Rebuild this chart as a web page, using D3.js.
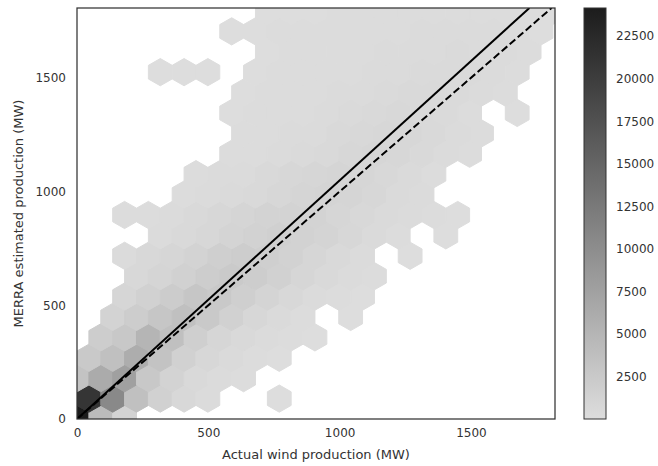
<!DOCTYPE html>
<html><head><meta charset="utf-8">
<script src="https://cdn.jsdelivr.net/npm/d3@7"></script>
<style>body{margin:0;background:#fff;} text{font-family:"DejaVu Sans",sans-serif;fill:#333;}</style>
</head><body><svg id="c" width="658" height="466"></svg>
<script>
// ---- data ----
const xTicks = [0, 500, 1000, 1500];
const yTicks = [0, 500, 1000, 1500];
const colorTicks = [2500, 5000, 7500, 10000, 12500, 15000, 17500, 20000, 22500];
const xLabel = "Actual wind production (MW)";
const yLabel = "MERRA estimated production (MW)";
const xExtent = [0, 1820];
const yExtent = [0, 1807];
const countExtent = [1, 24150];
const hexStepX = 90.6;   // hex width (MW)
const hexStepY = 179.4;  // lattice row period (MW)
const fitSlope = 1.049;  // regression line
const identitySlope = 1.0;
// hexbin counts: row r (bottom to top), centre y = r*hexStepY/2; odd rows shifted half a hex in x
const countsByRow = [
 [24150,4200,1300,0,0,0,0,0,0,0,0,0,0,0,0,0,0,0,0,0,0],
 [21000,10500,3600,1500,600,200,0,0,40,0,0,0,0,0,0,0,0,0,0,0],
 [3200,6200,7600,2600,1200,500,200,80,0,0,0,0,0,0,0,0,0,0,0,0,0],
 [2500,3600,6000,3200,1500,800,400,180,60,0,0,0,0,0,0,0,0,0,0,0],
 [0,2000,2600,5000,3600,1800,900,450,220,100,40,0,0,0,0,0,0,0,0,0,0],
 [0,1200,2000,2900,3600,2500,1500,800,380,140,0,40,0,0,0,0,0,0,0,0],
 [0,0,900,1500,2100,2900,2500,1800,1100,600,300,140,60,0,0,0,0,0,0,0,0],
 [0,0,600,1000,1500,2000,2400,2000,1500,900,500,250,90,0,0,0,0,0,0,0],
 [0,0,300,600,900,1300,1700,2000,1800,1400,900,500,200,0,50,0,0,0,0,0,0],
 [0,0,0,300,500,800,1100,1400,1600,1400,1100,700,350,150,0,40,0,0,0,0],
 [0,0,100,150,300,500,700,950,1200,1300,1200,900,600,350,200,100,40,0,0,0,0],
 [0,0,0,0,100,200,350,550,800,1000,1100,1000,700,400,200,0,0,0,0,0],
 [0,0,0,0,0,100,200,300,500,700,900,1000,900,600,350,150,0,0,0,0,0],
 [0,0,0,0,0,0,100,150,250,400,550,750,850,800,550,300,120,0,0,0],
 [0,0,0,0,0,0,0,80,150,200,300,450,600,700,700,500,250,100,0,0,0],
 [0,0,0,0,0,0,50,80,120,180,250,350,500,600,550,350,150,0,50,0],
 [0,0,0,0,0,0,0,60,90,120,160,220,300,400,500,500,400,200,80,0,0],
 [0,0,0,30,30,30,0,60,80,100,130,170,220,300,380,420,380,250,100,0],
 [0,0,0,0,0,0,0,0,60,80,100,120,160,200,250,300,350,300,200,80,0],
 [0,0,0,0,0,0,30,50,70,80,100,120,150,180,220,260,280,250,150,60],
 [0,0,0,0,0,0,0,0,40,50,60,70,80,100,120,140,160,180,170,120,60]
];

// ---- layout ----
const plot = {left: 77, right: 555, top: 8, bottom: 419};
const cbar = {left: 584, right: 606};
const svg = d3.select("#c");
const x = d3.scaleLinear().domain(xExtent).range([plot.left, plot.right]);
const y = d3.scaleLinear().domain(yExtent).range([plot.bottom, plot.top]);
const colorInterp = d3.interpolateRgb("#dddddd", "#1c1c1c");
const color = d3.scaleLinear().domain(countExtent).range([0, 1]).clamp(true);
const fillOf = c => colorInterp(color(c));

svg.append("defs").append("clipPath").attr("id", "clip")
  .append("rect").attr("x", plot.left).attr("y", plot.top)
  .attr("width", plot.right - plot.left).attr("height", plot.bottom - plot.top);

const cells = [];
countsByRow.forEach((row, r) => {
  row.forEach((c, i) => {
    if (c > 0) cells.push({cx: (i + (r % 2 ? 0.5 : 0)) * hexStepX, cy: r * hexStepY / 2, c});
  });
});
const hexOffsets = [[0.5, -1/6], [0.5, 1/6], [0, 1/3], [-0.5, 1/6], [-0.5, -1/6], [0, -1/3]];
const g = svg.append("g").attr("clip-path", "url(#clip)");
g.selectAll("path.hex").data(cells).join("path").attr("class", "hex")
  .attr("d", d => "M" + hexOffsets.map(o => [x(d.cx + o[0] * hexStepX), y(d.cy + o[1] * hexStepY)].join(",")).join("L") + "Z")
  .attr("fill", d => fillOf(d.c)).attr("stroke", d => fillOf(d.c)).attr("stroke-width", 1);

// lines
const lineGen = d3.line().x(d => x(d[0])).y(d => y(d[1]));
g.append("path").attr("d", lineGen([[0, 0], [yExtent[1] / fitSlope, yExtent[1]]]))
  .attr("stroke", "#000").attr("stroke-width", 2).attr("fill", "none");
g.append("path").attr("d", lineGen([[0, 0], [yExtent[1] / identitySlope, yExtent[1]]]))
  .attr("stroke", "#000").attr("stroke-width", 2).attr("fill", "none").attr("stroke-dasharray", "7.4,3.2");

// frame
svg.append("rect").attr("x", plot.left).attr("y", plot.top)
  .attr("width", plot.right - plot.left).attr("height", plot.bottom - plot.top)
  .attr("fill", "none").attr("stroke", "#333").attr("stroke-width", 1.25);

// axes (no tick marks)
const xAxis = svg.append("g").attr("transform", `translate(0,${plot.bottom})`)
  .call(d3.axisBottom(x).tickValues(xTicks).tickSize(0).tickPadding(9).tickFormat(d3.format("d")));
const yAxis = svg.append("g").attr("transform", `translate(${plot.left},0)`)
  .call(d3.axisLeft(y).tickValues(yTicks).tickSize(0).tickPadding(11).tickFormat(d3.format("d")));
[xAxis, yAxis].forEach(a => {
  a.select(".domain").remove();
  a.selectAll("text").style("font-size", "12px").style("font-family", "DejaVu Sans").attr("fill", "#333");
});
svg.append("text").attr("x", (plot.left + plot.right) / 2).attr("y", 459)
  .attr("text-anchor", "middle").style("font-size", "13px").text(xLabel);
svg.append("text").attr("transform", `translate(23,${(plot.top + plot.bottom) / 2}) rotate(-90)`)
  .attr("text-anchor", "middle").style("font-size", "13px").text(yLabel);

// colorbar
const cy = d3.scaleLinear().domain(countExtent).range([plot.bottom, plot.top]);
const grad = svg.select("defs").append("linearGradient").attr("id", "cg")
  .attr("x1", 0).attr("y1", 1).attr("x2", 0).attr("y2", 0);
grad.append("stop").attr("offset", "0%").attr("stop-color", colorInterp(0));
grad.append("stop").attr("offset", "100%").attr("stop-color", colorInterp(1));
svg.append("rect").attr("x", cbar.left).attr("y", plot.top)
  .attr("width", cbar.right - cbar.left).attr("height", plot.bottom - plot.top)
  .attr("fill", "url(#cg)").attr("stroke", "#333").attr("stroke-width", 1);
const cAxis = svg.append("g").attr("transform", `translate(${cbar.right},0)`)
  .call(d3.axisRight(cy).tickValues(colorTicks).tickSize(0).tickPadding(10).tickFormat(d3.format("d")));
cAxis.select(".domain").remove();
cAxis.selectAll("text").style("font-size", "12px").style("font-family", "DejaVu Sans").attr("fill", "#333");
</script></body></html>
